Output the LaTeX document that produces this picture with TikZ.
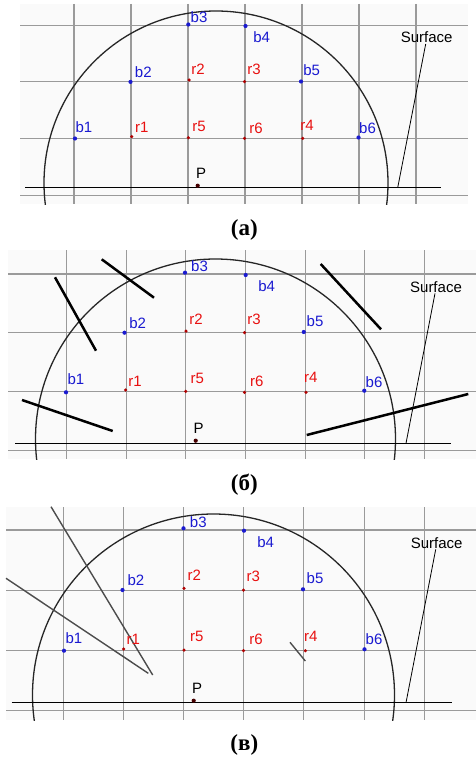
\documentclass[tikz,border=0pt]{standalone}
\usepackage{fontspec}
\setmainfont{Liberation Serif}
\setsansfont{Liberation Sans}
\usepackage{tikz}
\usetikzlibrary{positioning,calc}
\definecolor{gridgray}{HTML}{9A9A9A}
\definecolor{bblue}{HTML}{1A1AD0}
\definecolor{rred}{HTML}{E81010}
\definecolor{rdot}{HTML}{B00000}
\definecolor{paper}{HTML}{FAFAFA}
\newcommand{\labfont}{\sffamily\fontsize{15}{15}\selectfont}

\begin{document}
\begin{tikzpicture}[x=1pt,y=-1pt,
  gridline/.style={draw=gridgray,line width=1.1pt},
  surf/.style={draw=black,line width=1pt},
  dome/.style={draw=black!85,line width=1.3pt},
  bpt/.style={circle,fill=bblue,inner sep=0pt,minimum size=4.2pt},
  rpt/.style={circle,fill=rdot,inner sep=0pt,minimum size=3.5pt},
  ppt/.style={circle,fill=black!60!rdot,inner sep=0pt,minimum size=4.2pt},
  blab/.style={text=bblue,font=\labfont,inner sep=0pt},
  rlab/.style={text=rred,font=\labfont,inner sep=0pt},
  plab/.style={text=black,font=\labfont,inner sep=0pt},
  slab/.style={text=black,font=\labfont,inner sep=0pt},
  cutline/.style={draw=black,line width=2.5pt},
  rayline/.style={draw=black!70,line width=1.4pt},
  captxt/.style={font=\bfseries\fontsize{23}{23}\selectfont,inner sep=0pt}]
\useasboundingbox[fill=white] (0,0) rectangle (476,760);

% (a)
\fill[paper] (20,4) rectangle (468,204);
\foreach \i in {0,...,6} \draw[gridline] ({74+57*\i},4) -- ({74+57*\i},204);
\foreach \j in {0,...,3} \draw[gridline] (20,{25.3+56.6*\j}) -- (468,{25.3+56.6*\j});
\begin{scope}
\clip (20,4) rectangle (468,204);
\draw[dome] (216,183) circle[radius=172];
\end{scope}
\coordinate (aL) at (25,187.7);
\coordinate (aR) at (440.7,187.7);
\draw[surf] (aL) -- (aR);
\node[bpt] (a-b1) at (75,138.5) {};   \node[blab] (a-b1t) at (84,127) {b1};
\node[bpt] (a-b2) at (130.5,81.9) {}; \node[blab] (a-b2t) at (143.3,72.5) {b2};
\node[bpt] (a-b3) at (188.3,24.5) {}; \node[blab] (a-b3t) at (199,17.5) {b3};
\node[bpt] (a-b4) at (245.5,26) {};   \node[blab] (a-b4t) at (261.7,36.7) {b4};
\node[bpt] (a-b5) at (301,81.5) {};   \node[blab] (a-b5t) at (311.7,70) {b5};
\node[bpt] (a-b6) at (358.5,137.5) {};\node[blab] (a-b6t) at (367.5,127.7) {b6};
\node[rpt] (a-r1) at (131.7,136.7) {};\node[rlab] (a-r1t) at (141.7,127.7) {r1};
\node[rpt] (a-r2) at (189,80) {};     \node[rlab] (a-r2t) at (198,69) {r2};
\node[rpt] (a-r3) at (244.5,81.7) {}; \node[rlab] (a-r3t) at (254,69) {r3};
\node[rpt] (a-r4) at (302.7,138.3) {};\node[rlab] (a-r4t) at (307,125) {r4};
\node[rpt] (a-r5) at (188.3,137.7) {};\node[rlab] (a-r5t) at (199,126) {r5};
\node[rpt] (a-r6) at (244.5,138.3) {};\node[rlab] (a-r6t) at (256,128) {r6};
\node[ppt] (a-p) at (197.7,185.7) {}; \node[plab] (a-pt) at (201,173.3) {P};
\node[slab] (a-surf) at (426.7,37.3) {Surface};
\coordinate (a-sfoot) at (397.7,187.7);
\draw[line width=0.8pt] (a-surf.south) ++(-1,1) -- (a-sfoot);
\node[captxt] (a-cap) at (244.3,230) {(a)};

% (б)
\fill[paper] (8.3,250) rectangle (476,459.3);
\foreach \i in {0,...,6} \draw[gridline] ({66.7+59.6*\i},250) -- ({66.7+59.6*\i},459.3);
\foreach \j in {0,...,3} \draw[gridline] (8.3,{274+58.9*\j}) -- (476,{274+58.9*\j});
\begin{scope}
\clip (8.3,250) rectangle (476,459.3);
\draw[dome] (215.5,439) circle[radius=180];
\end{scope}
\coordinate (bL) at (15,443.3);
\coordinate (bR) at (450.7,443.3);
\draw[surf] (bL) -- (bR);
\coordinate (c1a) at (55,277.3);    \coordinate (c1b) at (96,350.7);
\coordinate (c2a) at (101.7,259.3); \coordinate (c2b) at (154,297.7);
\coordinate (c3a) at (320.7,264);   \coordinate (c3b) at (381,329.3);
\coordinate (c4a) at (22,400);      \coordinate (c4b) at (112.7,431);
\coordinate (c5a) at (306.7,435);   \coordinate (c5b) at (468.3,394);
\draw[cutline] (c1a) -- (c1b);
\draw[cutline] (c2a) -- (c2b);
\draw[cutline] (c3a) -- (c3b);
\draw[cutline] (c4a) -- (c4b);
\draw[cutline] (c5a) -- (c5b);
\node[bpt] (b-b1) at (66,392.3) {};   \node[blab] (b-b1t) at (76,379.3) {b1};
\node[bpt] (b-b2) at (124.5,332.7) {};\node[blab] (b-b2t) at (137.7,322.7) {b2};
\node[bpt] (b-b3) at (185,272.7) {};  \node[blab] (b-b3t) at (199.5,266) {b3};
\node[bpt] (b-b4) at (245.7,275) {};  \node[blab] (b-b4t) at (266.7,286) {b4};
\node[bpt] (b-b5) at (303.8,332) {};  \node[blab] (b-b5t) at (315,321) {b5};
\node[bpt] (b-b6) at (364.3,390.7) {};\node[blab] (b-b6t) at (374,381.7) {b6};
\node[rpt] (b-r1) at (125.7,390) {};  \node[rlab] (b-r1t) at (135,381.7) {r1};
\node[rpt] (b-r2) at (186,331) {};    \node[rlab] (b-r2t) at (196,319.3) {r2};
\node[rpt] (b-r3) at (244.5,332.7) {};\node[rlab] (b-r3t) at (254,319.3) {r3};
\node[rpt] (b-r4) at (306,392.3) {};  \node[rlab] (b-r4t) at (310.7,377.7) {r4};
\node[rpt] (b-r5) at (185.7,391.3) {};\node[rlab] (b-r5t) at (197.3,378.3) {r5};
\node[rpt] (b-r6) at (244.5,392.3) {};\node[rlab] (b-r6t) at (256.7,381) {r6};
\node[ppt] (b-p) at (195.7,440.7) {}; \node[plab] (b-pt) at (198.7,428.3) {P};
\node[slab] (b-surf) at (436,286.7) {Surface};
\coordinate (b-sfoot) at (406,443.3);
\draw[line width=0.8pt] (b-surf.south) ++(-1,1) -- (b-sfoot);
\node[captxt] (b-cap) at (244.3,485) {(б)};

% (в)
\fill[paper] (6,507) rectangle (476,720);
\foreach \i in {0,...,6} \draw[gridline] ({63.3+60.15*\i},507) -- ({63.3+60.15*\i},720);
\foreach \j in {0,...,3} \draw[gridline] (6,{530+60.2*\j}) -- (476,{530+60.2*\j});
\begin{scope}
\clip (6,507) rectangle (476,720);
\draw[dome] (213.5,695) circle[radius=181];
\end{scope}
\coordinate (vL) at (11.7,702.7);
\coordinate (vR) at (451.7,702.7);
\draw[surf] (vL) -- (vR);
\coordinate (v1a) at (51,506.7);  \coordinate (v1b) at (152.7,675);
\coordinate (v2a) at (6,578.3);   \coordinate (v2b) at (148.3,673.3);
\coordinate (v3a) at (290,642.3); \coordinate (v3b) at (305.3,661);
\draw[rayline] (v1a) -- (v1b);
\draw[rayline] (v2a) -- (v2b);
\draw[rayline] (v3a) -- (v3b);
\node[bpt] (v-b1) at (64,650.7) {};   \node[blab] (v-b1t) at (74,637.7) {b1};
\node[bpt] (v-b2) at (122.5,590) {};  \node[blab] (v-b2t) at (136,580) {b2};
\node[bpt] (v-b3) at (183.5,528.3) {};\node[blab] (v-b3t) at (198.3,521.7) {b3};
\node[bpt] (v-b4) at (244,530.7) {};  \node[blab] (v-b4t) at (265.7,541.7) {b4};
\node[bpt] (v-b5) at (303,589.3) {};  \node[blab] (v-b5t) at (315,578.3) {b5};
\node[bpt] (v-b6) at (364.5,649.3) {};\node[blab] (v-b6t) at (374,639.3) {b6};
\node[rpt] (v-r1) at (123.7,649) {};  \node[rlab] (v-r1t) at (133.3,639.3) {r1};
\node[rpt] (v-r2) at (184,588.3) {};  \node[rlab] (v-r2t) at (194.3,575.7) {r2};
\node[rpt] (v-r3) at (243.5,590) {};  \node[rlab] (v-r3t) at (253.3,576.7) {r3};
\node[rpt] (v-r4) at (305.3,650.7) {};\node[rlab] (v-r4t) at (310.7,636) {r4};
\node[rpt] (v-r5) at (184,650) {};    \node[rlab] (v-r5t) at (196.7,636.7) {r5};
\node[rpt] (v-r6) at (243.5,650.7) {};\node[rlab] (v-r6t) at (256,639.3) {r6};
\node[ppt] (v-p) at (193.7,700.7) {}; \node[plab] (v-pt) at (197,688.3) {P};
\node[slab] (v-surf) at (436.7,542.7) {Surface};
\coordinate (v-sfoot) at (406,702.7);
\draw[line width=0.8pt] (v-surf.south) ++(-1,1) -- (v-sfoot);
\node[captxt] (v-cap) at (244.3,745) {(в)};
\end{tikzpicture}
\end{document}
